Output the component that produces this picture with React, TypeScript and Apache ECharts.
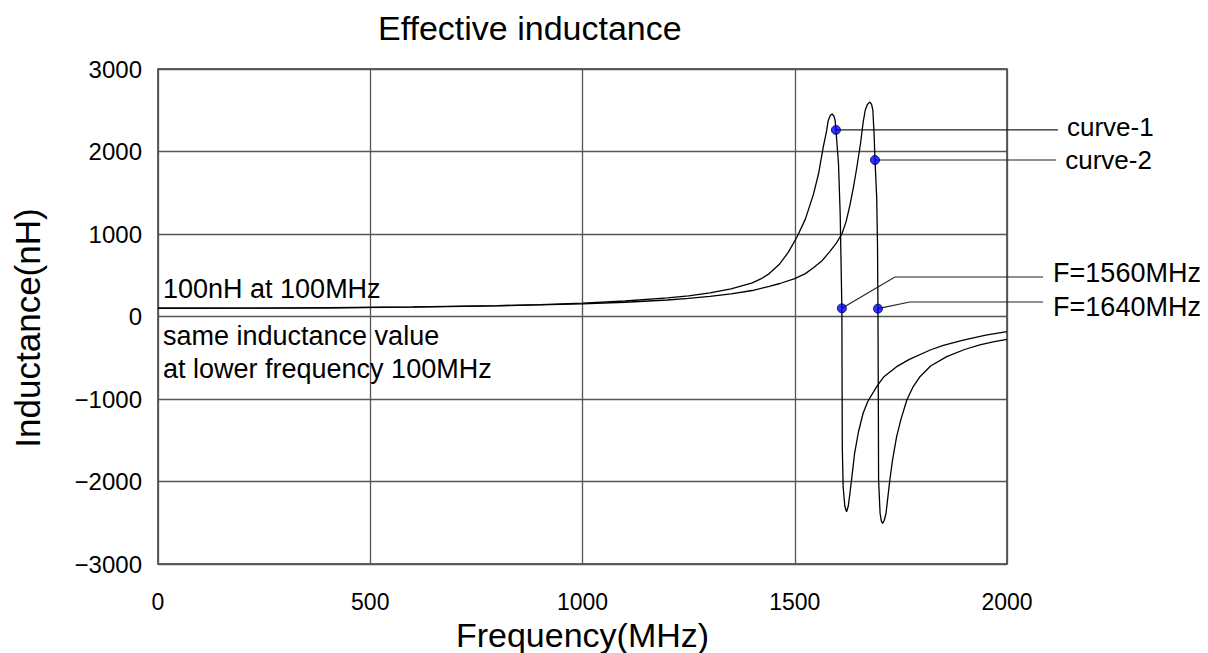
import React, { useEffect, useRef } from "react";
import * as echarts from "echarts";

// ---- data ----
const curve1: [number, number][] = [
  [0, 100], [200, 101], [400, 106], [600, 116], [800, 133], [900, 145],
  [1000, 163], [1100, 188], [1200, 225], [1250, 250], [1300, 287], [1350, 335], [1400, 408],
  [1420, 455], [1440, 520], [1465, 640], [1485, 780], [1505, 960], [1525, 1180],
  [1544, 1480], [1556, 1730], [1567, 2050], [1575, 2250], [1579, 2380],
  [1584, 2440], [1588, 2455], [1592, 2430], [1595, 2382], [1597, 2261], [1603, 1857],
  [1607, 1251], [1611, 99], [1611.5, -770], [1612, -1578], [1614, -2063], [1618, -2300],
  [1622, -2366], [1626, -2300], [1630, -2143], [1636, -1880], [1641, -1658], [1650, -1400],
  [1661, -1173], [1672, -1030], [1693, -851], [1710, -730], [1740, -608], [1770, -520],
  [1819, -406], [1850, -350], [1897, -285], [1950, -225], [2000, -184],
];

const curve2: [number, number][] = [
  [0, 100], [200, 101], [400, 105], [600, 113], [800, 129], [1000, 153],
  [1100, 173], [1200, 200], [1250, 220], [1300, 243], [1350, 275], [1400, 315],
  [1440, 365], [1465, 400], [1500, 460], [1525, 520], [1544, 590], [1565, 680],
  [1583, 790], [1598, 890], [1611, 1000], [1621, 1150], [1630, 1350], [1638, 1560],
  [1646, 1800], [1655, 2100], [1661, 2350], [1666, 2500], [1671, 2570], [1677, 2600],
  [1681, 2570], [1684, 2500], [1687, 2200], [1689, 1897], [1693, 1452], [1695, 846],
  [1696, 95], [1697, -1173], [1697.5, -1982], [1701, -2385], [1704, -2480], [1707, -2507],
  [1711, -2470], [1715, -2385], [1724, -1982], [1730, -1750], [1740, -1457], [1750, -1250],
  [1764, -1012], [1778, -860], [1795, -730], [1820, -600], [1858, -487], [1900, -400],
  [1936, -345], [1970, -305], [2000, -276],
];

const markerPoints: [number, number][] = [
  [1597, 2261], [1689, 1897], [1611, 99], [1696, 95],
];

const annotationTexts = ["curve-1", "curve-2", "F=1560MHz", "F=1640MHz"];
// leader-line bends / ends in data coordinates (end may lie beyond the axis)
const leaderPaths: [number, number][][] = [
  [[1597, 2261], [2120, 2261]],
  [[1689, 1897], [2116, 1897]],
  [[1611, 99], [1736, 479], [2085, 479]],
  [[1696, 95], [1771, 176], [2085, 176]],
];

const noteLines = ["100nH at 100MHz", "same inductance value", "at lower frequency 100MHz"];

const FONT = "'Liberation Sans', Arial, Helvetica, sans-serif";

// label placement relative to each leader line's end (pixels)
const labelOffsets: [number, number][] = [[9, -3], [9, 0], [10, -4], [10, 5]];
const labelSizes = [26, 26, 27, 27];

export default function App() {
  const ref = useRef<HTMLDivElement>(null);

  useEffect(() => {
    const chart = echarts.init(ref.current!, null, { renderer: "svg" });
    const gridLine = { show: true, lineStyle: { color: "#555", width: 1.3 } };
    chart.setOption({
      animation: false,
      backgroundColor: "#fff",
      grid: {
        left: 158, right: 201, top: 69, bottom: 89,
        show: true, borderColor: "#333", borderWidth: 1.5,
        outerBoundsMode: "none",
      },
      xAxis: {
        type: "value", min: 0, max: 2000, interval: 500,
        axisLine: { show: false }, axisTick: { show: false },
        splitLine: gridLine,
        axisLabel: {
          color: "#000", fontSize: 23, fontFamily: FONT, margin: 26,
          formatter: (v: number) => String(v),
        },
        name: "Frequency(MHz)", nameLocation: "middle", nameGap: 51,
        nameTextStyle: { color: "#000", fontSize: 34, fontFamily: FONT },
      },
      yAxis: {
        type: "value", min: -3000, max: 3000, interval: 1000,
        axisLine: { show: false }, axisTick: { show: false },
        splitLine: gridLine,
        axisLabel: {
          color: "#000", fontSize: 24, fontFamily: FONT, margin: 16,
          formatter: (v: number) => (v < 0 ? "\u2212" + Math.abs(v) : String(v)),
        },
      },
      series: [
        {
          name: "curve-1", type: "line", data: curve1, showSymbol: false,
          lineStyle: { color: "#000", width: 1.3 }, z: 3,
        },
        {
          name: "curve-2", type: "line", data: curve2, showSymbol: false,
          lineStyle: { color: "#000", width: 1.3 }, z: 3,
        },
        {
          name: "points", type: "scatter", data: markerPoints, symbolSize: 9,
          itemStyle: { color: "#0000ff", borderColor: "#000040", borderWidth: 1 }, z: 10,
        },
      ],
    });

    const px = (p: [number, number]) =>
      chart.convertToPixel({ gridIndex: 0 }, p) as number[];

    const graphics: any[] = [];
    const textStyle = (text: string, size: number, align = "left") => ({
      text, fontSize: size, fontFamily: FONT, fill: "#000", align, verticalAlign: "middle",
    });

    leaderPaths.forEach((path, i) => {
      const pts = path.map(px);
      graphics.push({
        type: "polyline", silent: true, z: 1,
        shape: { points: pts },
        style: { stroke: "#222", lineWidth: 1.2, fill: null },
      });
      const end = pts[pts.length - 1];
      graphics.push({
        type: "text", silent: true,
        x: end[0] + labelOffsets[i][0], y: end[1] + labelOffsets[i][1],
        style: textStyle(annotationTexts[i], labelSizes[i]),
      });
    });

    graphics.push({ type: "text", silent: true, x: 163, y: 289, style: textStyle(noteLines[0], 27) });
    graphics.push({ type: "text", silent: true, x: 163, y: 336, style: textStyle(noteLines[1], 27) });
    graphics.push({ type: "text", silent: true, x: 163, y: 369, style: textStyle(noteLines[2], 27) });

    graphics.push({
      type: "text", silent: true, x: 378, y: 28,
      style: textStyle("Effective inductance", 34),
    });
    graphics.push({
      type: "text", silent: true, x: 27, y: 328, rotation: Math.PI / 2,
      style: textStyle("Inductance(nH)", 35, "center"),
    });

    chart.setOption({ graphic: graphics });
    return () => chart.dispose();
  }, []);

  return (
    <div
      ref={ref}
      style={{ position: "fixed", left: 0, top: 0, width: 1208, height: 653, background: "#fff" }}
    />
  );
}
